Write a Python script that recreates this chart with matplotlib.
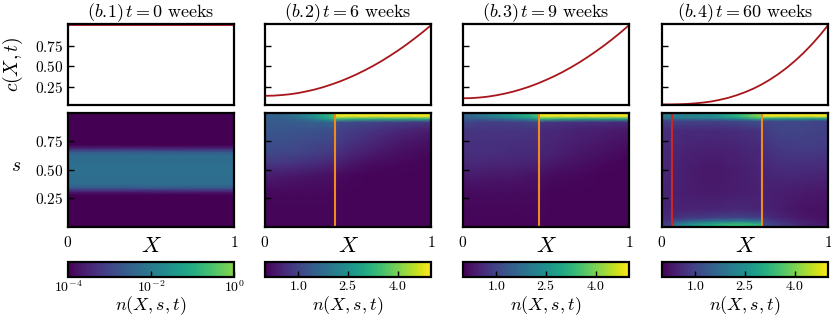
import numpy as np
import matplotlib
matplotlib.use("Agg")
import matplotlib.pyplot as plt
from matplotlib.colors import LogNorm, Normalize, ListedColormap

plt.rcParams['mathtext.fontset'] = 'cm'
plt.rcParams['font.family'] = ['DejaVu Serif']

# ---------------- data ----------------
titles = [r"$(b.\!1)\,t=0\ \mathrm{weeks}$", r"$(b.\!2)\,t=6\ \mathrm{weeks}$",
          r"$(b.\!3)\,t=9\ \mathrm{weeks}$", r"$(b.\!4)\,t=60\ \mathrm{weeks}$"]

X_curve = [0.0, 0.05, 0.1, 0.15, 0.2, 0.25, 0.3, 0.35, 0.4, 0.45, 0.5,
           0.55, 0.6, 0.65, 0.7, 0.75, 0.8, 0.85, 0.9, 0.95, 1.0]
c1 = [1.0] * 21
c2 = [0.140, 0.142, 0.149, 0.159, 0.174, 0.194, 0.217, 0.245, 0.278, 0.314, 0.355,
      0.400, 0.450, 0.503, 0.561, 0.624, 0.690, 0.761, 0.837, 0.916, 1.0]
c3 = [0.110, 0.112, 0.119, 0.130, 0.146, 0.166, 0.190, 0.219, 0.252, 0.290, 0.333,
      0.379, 0.430, 0.486, 0.546, 0.611, 0.680, 0.753, 0.831, 0.913, 1.0]
c4 = [0.035, 0.035, 0.037, 0.041, 0.048, 0.058, 0.072, 0.092, 0.116, 0.147, 0.184,
      0.227, 0.278, 0.337, 0.404, 0.479, 0.564, 0.657, 0.761, 0.875, 1.0]

# panel 1: log-scale density, uniform in X
x1 = [0.0, 1.0]
s1 = [0.0, 0.28, 0.31, 0.34, 0.37, 0.5, 0.63, 0.66, 0.69, 0.72, 1.0]
n1_profile = [1e-4, 1e-4, 3e-4, 2e-3, 5e-3, 6e-3, 5e-3, 2e-3, 3e-4, 1e-4, 1e-4]

# panel 2
x2 = [0, 0.1, 0.2, 0.3, 0.38, 0.418, 0.422, 0.5, 0.65, 0.8, 1.0]
s2 = [0, 0.3, 0.45, 0.55, 0.65, 0.75, 0.85, 0.92, 0.95, 0.975, 1.0]
n2 = [
    [0.05, 0.05, 0.05, 0.05, 0.05, 0.05, 0.05, 0.05, 0.05, 0.05, 0.05],
    [0.1, 0.1, 0.1, 0.1, 0.1, 0.1, 0.05, 0.05, 0.05, 0.05, 0.05],
    [0.4, 0.35, 0.3, 0.25, 0.2, 0.2, 0.15, 0.1, 0.05, 0.05, 0.05],
    [0.8, 0.75, 0.7, 0.6, 0.5, 0.5, 0.45, 0.3, 0.15, 0.1, 0.05],
    [1.1, 1.05, 1.0, 0.9, 0.85, 0.8, 0.7, 0.55, 0.35, 0.2, 0.1],
    [1.25, 1.2, 1.15, 1.1, 1.05, 1.0, 0.9, 0.75, 0.55, 0.35, 0.2],
    [1.35, 1.3, 1.3, 1.25, 1.2, 1.2, 1.0, 0.9, 0.75, 0.55, 0.4],
    [1.4, 1.4, 1.45, 1.5, 1.6, 1.7, 1.2, 1.1, 1.0, 0.9, 0.8],
    [1.45, 1.5, 1.7, 2.2, 2.8, 3.2, 3.5, 3.3, 3.2, 3.2, 3.2],
    [1.5, 1.6, 2.0, 2.6, 3.2, 3.6, 5.0, 5.0, 5.0, 5.0, 5.0],
    [1.5, 1.6, 1.9, 2.5, 3.0, 3.4, 4.6, 4.6, 4.6, 4.6, 4.6],
]

# panel 3
x3 = [0, 0.1, 0.2, 0.3, 0.4, 0.458, 0.462, 0.55, 0.7, 0.85, 1.0]
s3 = [0, 0.3, 0.45, 0.55, 0.65, 0.75, 0.85, 0.92, 0.95, 0.975, 1.0]
n3 = [
    [0.05, 0.05, 0.05, 0.05, 0.05, 0.05, 0.05, 0.05, 0.05, 0.05, 0.05],
    [0.15, 0.15, 0.15, 0.15, 0.15, 0.15, 0.1, 0.05, 0.05, 0.05, 0.05],
    [0.35, 0.35, 0.3, 0.3, 0.25, 0.25, 0.2, 0.15, 0.1, 0.05, 0.05],
    [0.55, 0.55, 0.5, 0.5, 0.45, 0.45, 0.4, 0.3, 0.2, 0.1, 0.05],
    [0.65, 0.65, 0.65, 0.6, 0.6, 0.6, 0.5, 0.45, 0.3, 0.2, 0.1],
    [0.7, 0.7, 0.7, 0.7, 0.65, 0.65, 0.55, 0.5, 0.4, 0.3, 0.2],
    [0.8, 0.75, 0.75, 0.75, 0.75, 0.75, 0.6, 0.55, 0.45, 0.4, 0.3],
    [1.1, 0.95, 0.9, 0.95, 1.0, 1.1, 0.8, 0.75, 0.7, 0.65, 0.6],
    [1.4, 1.5, 1.7, 2.0, 2.4, 2.8, 3.4, 3.2, 3.0, 3.0, 3.0],
    [1.5, 1.9, 2.3, 2.7, 3.2, 3.6, 5.0, 5.0, 5.0, 5.0, 5.0],
    [1.5, 1.8, 2.2, 2.6, 3.0, 3.4, 4.6, 4.6, 4.6, 4.6, 4.6],
]

# panel 4
x4 = [0, 0.058, 0.062, 0.15, 0.3, 0.45, 0.598, 0.602, 0.7, 0.85, 1.0]
s4 = [0, 0.02, 0.05, 0.08, 0.15, 0.3, 0.5, 0.7, 0.85, 0.93, 0.955, 0.975, 1.0]
n4 = [
    [0.9, 1.0, 1.8, 2.4, 3.0, 3.4, 3.2, 1.2, 0.9, 0.5, 0.3],
    [0.9, 1.0, 1.8, 2.4, 3.0, 3.4, 3.2, 1.2, 0.9, 0.5, 0.3],
    [0.7, 0.8, 1.1, 1.4, 1.8, 2.0, 1.8, 1.0, 0.7, 0.4, 0.25],
    [0.6, 0.6, 0.7, 0.8, 0.9, 1.0, 0.9, 0.7, 0.5, 0.3, 0.2],
    [0.5, 0.5, 0.5, 0.5, 0.5, 0.55, 0.5, 0.5, 0.4, 0.25, 0.2],
    [0.5, 0.45, 0.45, 0.4, 0.35, 0.4, 0.45, 0.45, 0.4, 0.35, 0.3],
    [0.55, 0.5, 0.5, 0.4, 0.3, 0.4, 0.5, 0.5, 0.6, 0.6, 0.55],
    [0.6, 0.55, 0.55, 0.5, 0.45, 0.5, 0.6, 0.7, 0.85, 0.9, 0.85],
    [0.7, 0.65, 0.65, 0.6, 0.6, 0.65, 0.75, 0.85, 1.0, 1.0, 0.95],
    [1.0, 1.0, 1.0, 1.0, 1.0, 1.1, 1.3, 1.0, 1.1, 1.1, 1.0],
    [1.8, 1.9, 1.9, 2.0, 2.1, 2.6, 3.4, 3.2, 3.0, 3.0, 3.0],
    [2.0, 2.1, 2.1, 2.2, 2.4, 3.2, 4.2, 5.0, 5.0, 5.0, 5.0],
    [2.0, 2.1, 2.1, 2.2, 2.3, 3.0, 4.0, 4.6, 4.6, 4.6, 4.6],
]

# vertical marker lines: (X position, colour)
vlines = [[], [(0.42, '#ef8a1f')], [(0.46, '#ef8a1f')], [(0.06, '#c8281f'), (0.60, '#ef8a1f')]]

curves = [c1, c2, c3, c4]
grids = [(x1, s1, np.outer(n1_profile, np.ones(len(x1)))),
         (x2, s2, np.array(n2)), (x3, s3, np.array(n3)), (x4, s4, np.array(n4))]

ctick_vals = [0.25, 0.50, 0.75]
ctick_labels = [r"$0.25$", r"$0.50$", r"$0.75$"]

# ---------------- figure ----------------
W, H = 831, 316
fig = plt.figure(figsize=(W / 100, H / 100), dpi=100)

lefts = [68, 265, 463, 662]
width = 166

def fbox(x0, y_top, w, h):
    return [x0 / W, 1 - (y_top + h) / H, w / W, h / H]

vir = plt.get_cmap('viridis')
cmap_log = ListedColormap(vir(np.linspace(0, 0.82, 256)))

for i in range(4):
    x0 = lefts[i]
    # top curve panel
    axc = fig.add_axes(fbox(x0, 24, width, 81))
    axc.plot(X_curve, curves[i], color='#a8161b', lw=1.3)
    axc.set_xlim(0, 1)
    axc.set_ylim(0.028, 1.015)
    axc.set_xticks([])
    axc.set_yticks(ctick_vals)
    axc.tick_params(axis='y', direction='in', length=4, width=1)
    if i == 0:
        axc.set_yticklabels(ctick_labels, fontsize=11)
        axc.set_ylabel(r"$c(X,t)$", fontsize=14)
        axc.yaxis.label.set_va('center')
        axc.yaxis.set_label_coords(-0.33, 0.5)
    else:
        axc.set_yticklabels([])
    axc.set_title(titles[i], fontsize=13, pad=4)
    for sp in axc.spines.values():
        sp.set_linewidth(1.6)

    # heatmap
    axh = fig.add_axes(fbox(x0, 113, width, 113.5))
    xg, sg, ng = grids[i]
    if i == 0:
        m = axh.pcolormesh(xg, sg, ng, shading='gouraud', cmap=cmap_log,
                           norm=LogNorm(vmin=1e-4, vmax=1e0), rasterized=True)
    else:
        m = axh.pcolormesh(xg, sg, ng, shading='gouraud', cmap='viridis',
                           norm=Normalize(vmin=0.0, vmax=5.0), rasterized=True)
    for xv, col in vlines[i]:
        axh.axvline(xv, color=col, lw=1.5)
    axh.set_xlim(0, 1)
    axh.set_ylim(0, 1)
    axh.set_xticks([0, 1])
    axh.set_xticklabels([r"$0$", r"$1$"], fontsize=11)
    axh.tick_params(axis='x', length=0, pad=6)
    axh.set_yticks(ctick_vals)
    axh.tick_params(axis='y', direction='in', length=4, width=1)
    if i == 0:
        axh.set_yticklabels(ctick_labels, fontsize=11)
        axh.set_ylabel(r"$s$", fontsize=14, rotation=0)
        axh.yaxis.label.set_va('center')
        axh.yaxis.label.set_ha('center')
        axh.yaxis.set_label_coords(-0.31, 0.53)
    else:
        axh.set_yticklabels([])
    axh.set_xlabel(r"$X$", fontsize=16)
    axh.xaxis.label.set_va('center')
    axh.xaxis.set_label_coords(0.5, -0.175)
    for sp in axh.spines.values():
        sp.set_linewidth(1.6)

    # colorbar
    cax = fig.add_axes(fbox(x0, 262, width, 15))
    cb = fig.colorbar(m, cax=cax, orientation='horizontal')
    if i == 0:
        cb.set_ticks([1e-4, 1e-2, 1e0])
        cb.set_ticklabels([r"$10^{-4}$", r"$10^{-2}$", r"$10^{0}$"])
        cax.xaxis.set_minor_locator(matplotlib.ticker.NullLocator())
    else:
        cb.set_ticks([1.0, 2.5, 4.0])
        cb.set_ticklabels([r"$1.0$", r"$2.5$", r"$4.0$"])
    cax.tick_params(axis='x', direction='in', length=4, width=1, labelsize=10, pad=1.5)
    cb.outline.set_linewidth(1.6)
    cb.set_label(r"$n(X,s,t)$", fontsize=13)
    cax.xaxis.label.set_va('center')
    cax.xaxis.set_label_coords(0.5, -1.92)

fig.savefig("out.png", dpi=100)
